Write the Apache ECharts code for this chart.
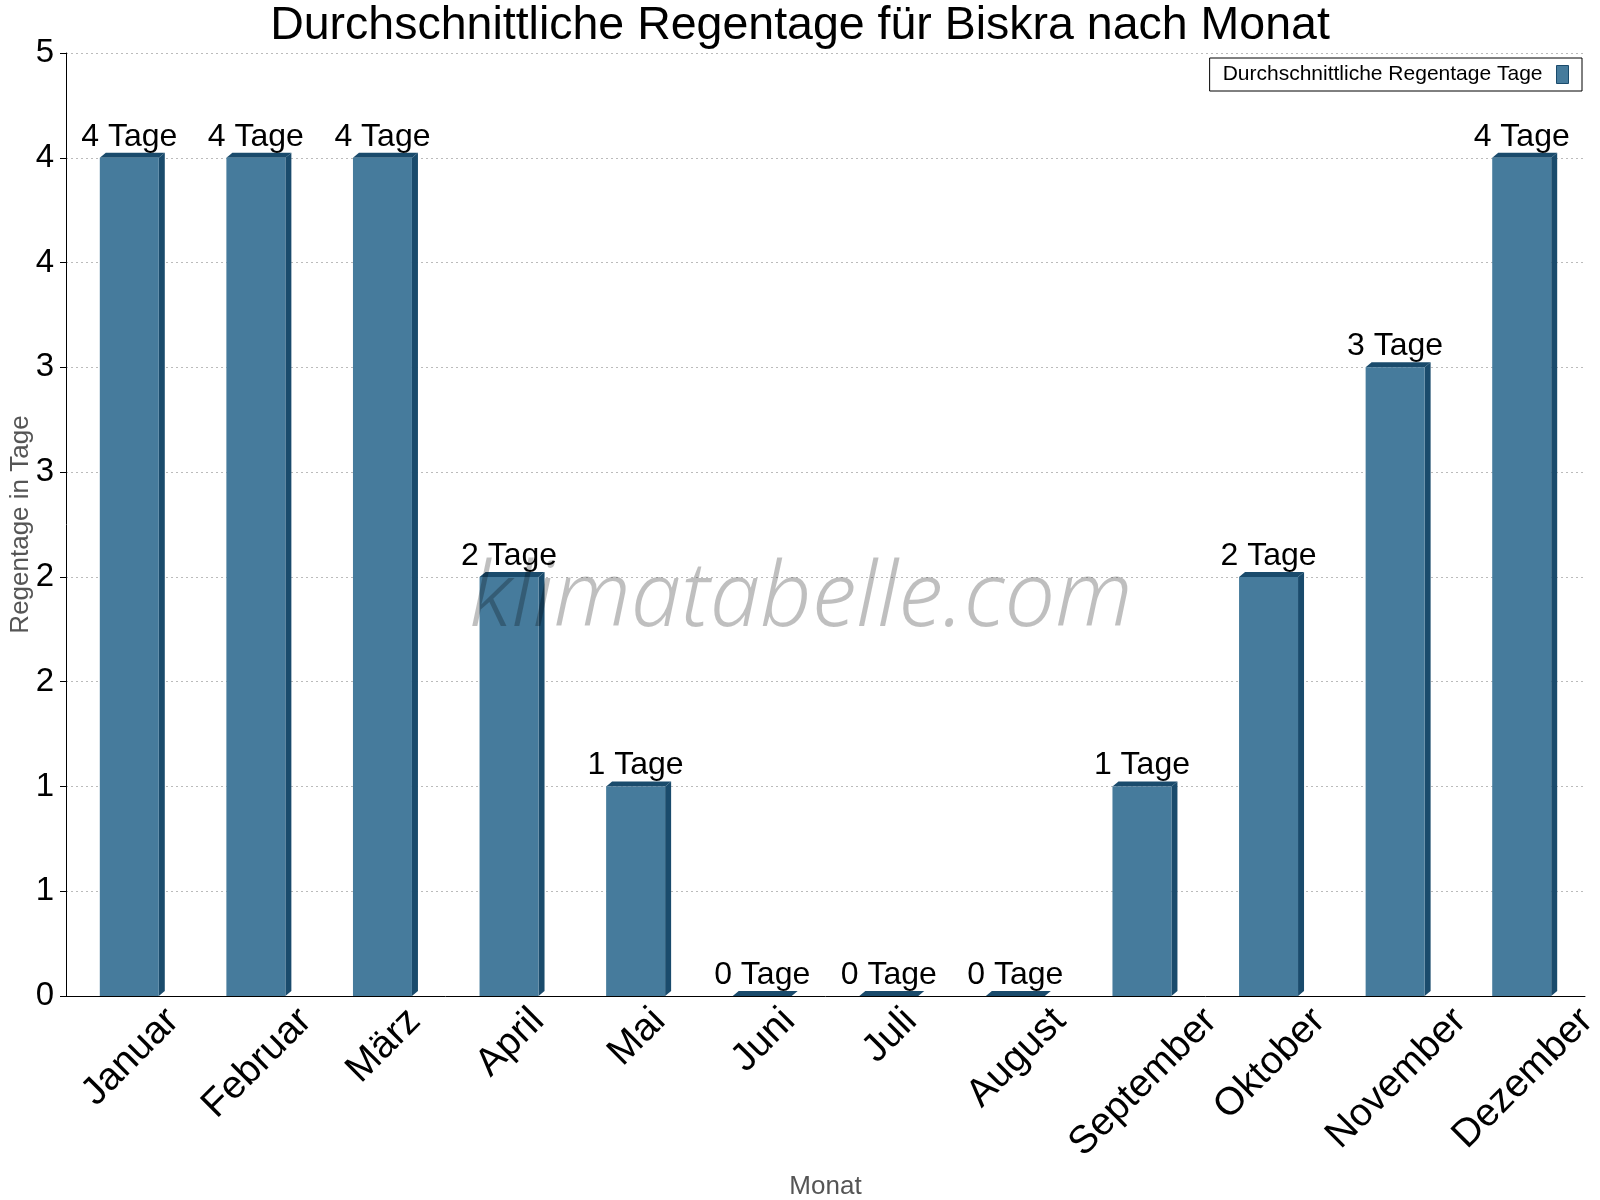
<!DOCTYPE html>
<html lang="de">
<head>
    <meta charset="UTF-8">
    <title>Durchschnittliche Regentage für Biskra nach Monat</title>
    <style>
        html, body {
            margin: 0;
            padding: 0;
            background: #ffffff;
        }
        #main {
            width: 1600px;
            height: 1200px;
        }
    </style>
    <script type="text/javascript" src="https://cdn.jsdelivr.net/npm/echarts@6/dist/echarts.min.js"></script>
</head>
<body>
<div id="main"></div>
<script type="text/javascript">
    var months = ["Januar", "Februar", "März", "April", "Mai", "Juni",
        "Juli", "August", "September", "Oktober", "November", "Dezember"];
    var rainDays = [4, 4, 4, 2, 1, 0, 0, 0, 1, 2, 3, 4];
    var seriesName = "Durchschnittliche Regentage Tage";

    var fontFamily = 'Liberation Sans, Arial, sans-serif';
    var front = '#467b9c';
    var dark = '#1a4b6c';
    var barShare = 0.466;
    var monthFont = 39;

    // top and right faces of the fake 3D bars
    function renderSides(params, api) {
        var idx = api.value(0);
        var top = api.coord([idx, api.value(1)]);
        var base = api.coord([idx, 0]);
        var w = api.size([1, 0])[0] * barShare;
        var x0 = top[0] - w / 2, x1 = top[0] + w / 2;
        var dx = 6, dy = 5;
        return {
            type: 'group',
            children: [
                {
                    type: 'polygon',
                    shape: {points: [[x0, top[1]], [x0 + dx, top[1] - dy], [x1 + dx, top[1] - dy], [x1, top[1]]]},
                    style: {fill: dark}
                },
                {
                    type: 'polygon',
                    shape: {points: [[x1, top[1]], [x1 + dx, top[1] - dy], [x1 + dx, base[1] - dy], [x1, base[1]]]},
                    style: {fill: dark}
                }
            ]
        };
    }

    // the rotated month labels hang from their top edge (centred on the tick),
    // so longer words sit lower: shift each one by a padding based on its width
    var ctx = document.createElement('canvas').getContext('2d');
    ctx.font = monthFont + 'px ' + fontFamily;
    var monthRich = {};
    months.forEach(function (m, i) {
        var len = ctx.measureText(m).width;
        monthRich['m' + i] = {
            fontSize: monthFont,
            fontFamily: fontFamily,
            color: '#000',
            padding: [len / 2 + 2, Math.max(0, len / 2 - 2), 0, 0]
        };
    });

    var chart = echarts.init(document.getElementById('main'));
    var option = {
        animation: false,
        textStyle: {fontFamily: fontFamily},
        title: {
            text: 'Durchschnittliche Regentage für Biskra nach Monat',
            left: 'center',
            top: -2,
            textStyle: {fontSize: 46.5, fontWeight: 'normal', color: '#000'}
        },
        legend: {
            data: [seriesName],
            right: 18,
            top: 58,
            align: 'right',
            padding: [6, 13, 6, 13],
            borderColor: '#000',
            borderWidth: 1,
            borderRadius: 0,
            backgroundColor: '#fff',
            itemWidth: 12,
            itemHeight: 18,
            icon: 'rect',
            itemStyle: {borderColor: dark, borderWidth: 1},
            textStyle: {fontSize: 21, color: '#000', padding: [0, 9, 0, 0]}
        },
        grid: {
            left: 66,
            right: 15,
            top: 53,
            bottom: 204,
            containLabel: false,
            outerBoundsMode: 'none'
        },
        xAxis: {
            type: 'category',
            data: months,
            name: 'Monat',
            nameLocation: 'middle',
            nameGap: 178,
            nameMoveOverlap: false,
            nameTextStyle: {fontSize: 26, color: '#555'},
            axisLine: {lineStyle: {color: '#000', width: 1}},
            axisTick: {length: 5, lineStyle: {color: '#000'}},
            axisLabel: {
                interval: 0,
                rotate: 45,
                fontSize: monthFont,
                color: '#000',
                margin: 19,
                align: 'center',
                verticalAlign: 'middle',
                formatter: function (value, index) {
                    return '{m' + index + '|' + value + '}';
                },
                rich: monthRich
            }
        },
        yAxis: {
            type: 'value',
            min: 0,
            max: 4.5,
            interval: 0.5,
            name: 'Regentage in Tage',
            nameLocation: 'middle',
            nameGap: 32,
            nameMoveOverlap: false,
            nameTextStyle: {fontSize: 26, color: '#555'},
            axisLine: {show: true, lineStyle: {color: '#000', width: 1}},
            axisTick: {show: true, length: 6, lineStyle: {color: '#000'}},
            axisLabel: {
                fontSize: 33,
                color: '#000',
                margin: 12,
                formatter: function (v) { return Math.round(v); }
            },
            splitLine: {lineStyle: {color: '#bbb', type: [2, 3], width: 1}}
        },
        graphic: [{
            type: 'text',
            x: 801,
            y: 600,
            z: 100,
            silent: true,
            style: {
                text: 'klimatabelle.com',
                font: "italic 300 90px 'Noto Sans'",
                fill: 'rgba(0,0,0,0.25)',
                textAlign: 'center',
                textVerticalAlign: 'middle'
            }
        }],
        series: [
            {
                name: 'sides',
                type: 'custom',
                renderItem: renderSides,
                data: months.map(function (m, i) { return [i, rainDays[i]]; }),
                encode: {x: 0, y: 1},
                z: 1,
                silent: true
            },
            {
                name: seriesName,
                type: 'bar',
                data: rainDays,
                barWidth: (barShare * 100) + '%',
                itemStyle: {color: front},
                z: 2,
                label: {
                    show: true,
                    position: 'top',
                    distance: 5,
                    fontSize: 32,
                    color: '#000',
                    formatter: '{c} Tage'
                }
            }
        ]
    };
    chart.setOption(option);
</script>
</body>
</html>
